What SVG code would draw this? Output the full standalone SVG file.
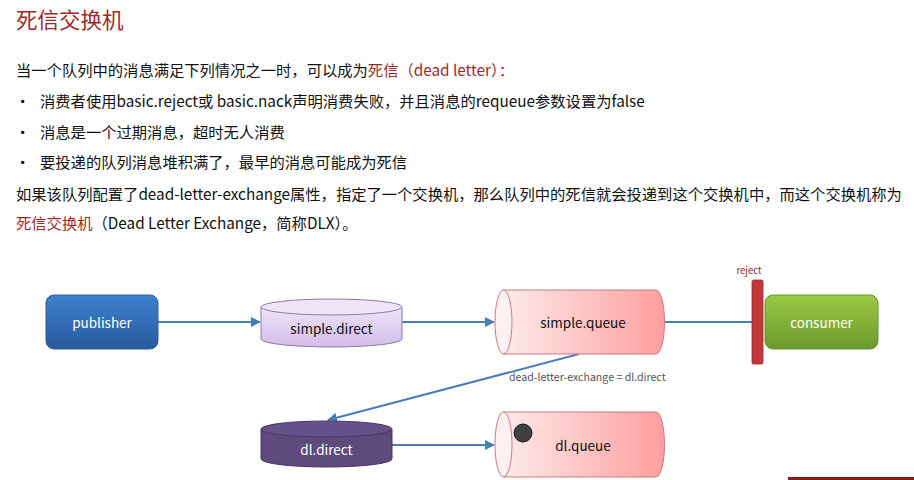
<svg xmlns="http://www.w3.org/2000/svg" width="914" height="480" viewBox="0 0 914 480">
<defs>
<style>
.t{font-family:"Noto Sans CJK SC","Liberation Sans",sans-serif;fill:#111}
.red{fill:#9B2B2B}
.body{font-size:15.3px}
.lbl{font-family:"Noto Sans CJK SC","Liberation Sans",sans-serif;font-size:13.5px;text-anchor:middle;dominant-baseline:central}
.conn{stroke:#4A7EBB;stroke-width:2;fill:none}
</style>
<linearGradient id="gBlue" x1="0" y1="0" x2="0" y2="1"><stop offset="0" stop-color="#3D80CC"/><stop offset="1" stop-color="#2A5B9F"/></linearGradient>
<linearGradient id="gGreen" x1="0" y1="0" x2="0" y2="1"><stop offset="0" stop-color="#9CC845"/><stop offset="1" stop-color="#6C9A2B"/></linearGradient>
<linearGradient id="gLav" x1="0" y1="0" x2="0" y2="1"><stop offset="0" stop-color="#EEE4F8"/><stop offset="1" stop-color="#D3BCEA"/></linearGradient>
<linearGradient id="gPink" x1="0" y1="0" x2="1" y2="0"><stop offset="0" stop-color="#FFEAEA"/><stop offset="1" stop-color="#FF9E9E"/></linearGradient>
<marker id="arr" viewBox="0 0 10 10" refX="9" refY="5" markerWidth="5" markerHeight="5" orient="auto"><path d="M0,0 L10,5 L0,10 z" fill="#4A7EBB"/></marker>
</defs>
<rect width="914" height="480" fill="#fff"/>

<text class="t red" x="16" y="28" style="font-size:21.5px">死信交换机</text>
<text class="t body" x="16" y="76">当一个队列中的消息满足下列情况之一时，可以成为<tspan class="red">死信（dead letter）：</tspan></text>
<text class="t body" x="15" y="107">•</text>
<text class="t body" x="40" y="107">消费者使用basic.reject或 basic.nack声明消费失败，并且消息的requeue参数设置为false</text>
<text class="t body" x="15" y="138">•</text>
<text class="t body" x="40" y="138">消息是一个过期消息，超时无人消费</text>
<text class="t body" x="15" y="168">•</text>
<text class="t body" x="40" y="168">要投递的队列消息堆积满了，最早的消息可能成为死信</text>
<text class="t body" x="16" y="200">如果该队列配置了dead-letter-exchange属性，指定了一个交换机，那么队列中的死信就会投递到这个交换机中，而这个交换机称为</text>
<text class="t body" x="16" y="229"><tspan class="red">死信交换机</tspan>（Dead Letter Exchange，简称DLX）。</text>

<g id="connectors">
<line class="conn" x1="158" y1="322" x2="260" y2="322" marker-end="url(#arr)"/>
<line class="conn" x1="402" y1="322" x2="494" y2="322" marker-end="url(#arr)"/>
<line class="conn" x1="665" y1="322" x2="752" y2="322"/>
<line class="conn" x1="579" y1="354" x2="328" y2="420" marker-end="url(#arr)"/>
<line class="conn" x1="392" y1="445" x2="494" y2="445" marker-end="url(#arr)"/>
<text x="509" y="381" style="font-family:'Noto Sans CJK SC','Liberation Sans',sans-serif;font-size:10.6px;fill:#555">dead-letter-exchange = dl.direct</text>
</g>

<g id="publisher">
<rect x="46" y="295" width="112" height="54" rx="8" fill="url(#gBlue)" stroke="#2D5F9E" stroke-width="1"/>
<text class="lbl" x="102" y="322" fill="#fff">publisher</text>
</g>

<g id="simple.direct">
<path d="M261,307 L261,339 A70.5,8 0 0 0 402,339 L402,307 Z" fill="url(#gLav)" stroke="#8C7AA6" stroke-width="1"/>
<ellipse cx="331.5" cy="307" rx="70.5" ry="8" fill="#EEE6F8" stroke="#8C7AA6" stroke-width="1"/>
<text class="lbl" x="331.5" y="328" fill="#111">simple.direct</text>
</g>

<g id="simple.queue">
<path d="M503.5,290 L656,290 A8.5,32 0 0 1 656,354 L503.5,354 Z" fill="url(#gPink)" stroke="#C97A7A" stroke-width="1"/>
<ellipse cx="503.5" cy="322" rx="8.5" ry="32" fill="#FFF1F1" stroke="#C97A7A" stroke-width="1"/>
<text class="lbl" x="583" y="322" fill="#111">simple.queue</text>
</g>

<g id="reject">
<rect x="752" y="280" width="11" height="84" rx="1.5" fill="#C2383B" stroke="#9A2A2C" stroke-width="0.8"/>
<text x="749" y="274" text-anchor="middle" style="font-family:'Noto Sans CJK SC','Liberation Sans',sans-serif;font-size:9.5px;fill:#8B2323">reject</text>
</g>

<g id="consumer">
<rect x="765" y="295" width="113" height="54" rx="8" fill="url(#gGreen)" stroke="#6A942C" stroke-width="1"/>
<text class="lbl" x="821.5" y="322" fill="#fff">consumer</text>
</g>

<g id="dl.direct">
<path d="M261,429 L261,459 A65.5,8 0 0 0 392,459 L392,429 Z" fill="#5F4A7D" stroke="#4A3862" stroke-width="1"/>
<ellipse cx="326.5" cy="429" rx="65.5" ry="8" fill="#67518A" stroke="#4A3862" stroke-width="1"/>
<text class="lbl" x="326.5" y="449" fill="#fff">dl.direct</text>
</g>

<g id="dl.queue">
<path d="M503.5,412 L656,412 A8.5,32.5 0 0 1 656,477 L503.5,477 Z" fill="url(#gPink)" stroke="#C97A7A" stroke-width="1"/>
<ellipse cx="503.5" cy="444.5" rx="8.5" ry="32.5" fill="#FFF1F1" stroke="#C97A7A" stroke-width="1"/>
<circle cx="523" cy="433" r="9" fill="#404040" stroke="#1A1A1A" stroke-width="1"/>
<text class="lbl" x="583" y="445" fill="#111">dl.queue</text>
</g>

<rect x="788" y="477" width="126" height="3" fill="#8B1A1A"/>
</svg>
